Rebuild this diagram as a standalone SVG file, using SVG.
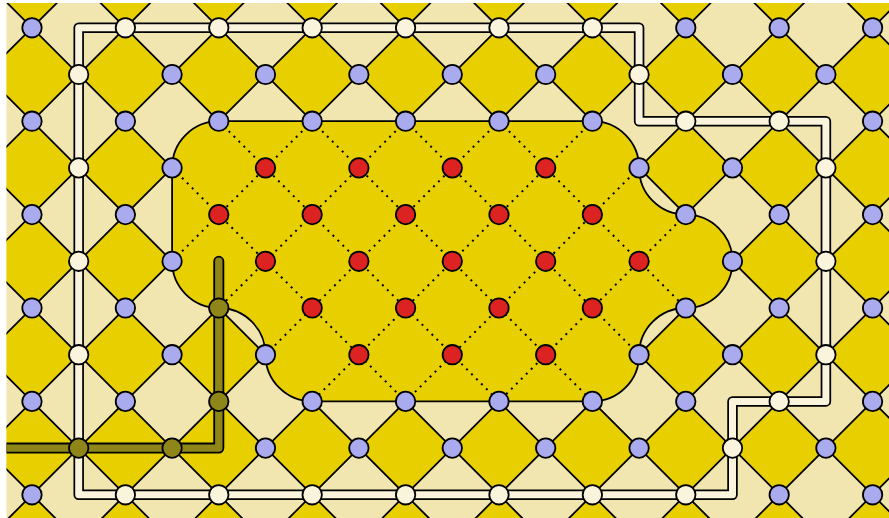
<svg xmlns="http://www.w3.org/2000/svg" width="889" height="518" viewBox="0 0 889 518">
<defs>
<style>
.lat{fill:none;stroke:#000;stroke-width:1.8}
.dot{fill:none;stroke:#000;stroke-width:2;stroke-dasharray:2 5}
.reg{fill:#e8d000;stroke:#000;stroke-width:1.8;stroke-linejoin:round}
.wcase{fill:none;stroke:#000;stroke-width:10.5;stroke-linejoin:round}
.wfill{fill:none;stroke:#faf4dc;stroke-width:7;stroke-linejoin:round}
.ocase{fill:none;stroke:#000;stroke-width:11;stroke-linejoin:round;stroke-linecap:round}
.ofill{fill:none;stroke:#8f861a;stroke-width:7.4;stroke-linejoin:round;stroke-linecap:round}
circle{stroke:#000;stroke-width:1.8}
.b circle{fill:#aaaaee}
.w circle{fill:#faf4dc}
.o circle{fill:#8f861a}
.r circle{fill:#dd2222}
</style>
<clipPath id="clip"><rect x="6.5" y="3" width="883" height="515"/></clipPath>
<pattern id="diam" patternUnits="userSpaceOnUse" x="-14.7" y="27.8" width="93.4" height="93.4">
<polygon points="0,46.7 46.7,0 93.4,46.7 46.7,93.4" fill="#e8d000"/>
</pattern>
</defs>
<g clip-path="url(#clip)">
<rect x="0" y="0" width="889" height="518" fill="#f2e6b0"/>
<rect x="0" y="0" width="889" height="518" fill="url(#diam)"/>
<g id="connectors">
<path class="lat" d="M-481.7 -18.9L78.7 541.5M-388.3 -18.9L172.1 541.5M-294.9 -18.9L265.5 541.5M-201.5 -18.9L358.9 541.5M-108.1 -18.9L452.3 541.5M-14.7 -18.9L545.7 541.5M78.7 -18.9L639.1 541.5M172.1 -18.9L732.5 541.5M265.5 -18.9L825.9 541.5M358.9 -18.9L919.3 541.5M452.3 -18.9L1012.7 541.5M545.7 -18.9L1106.1 541.5M639.1 -18.9L1199.5 541.5M732.5 -18.9L1292.9 541.5M825.9 -18.9L1386.3 541.5"/>
<path class="lat" d="M78.7 -18.9L-481.7 541.5M172.1 -18.9L-388.3 541.5M265.5 -18.9L-294.9 541.5M358.9 -18.9L-201.5 541.5M452.3 -18.9L-108.1 541.5M545.7 -18.9L-14.7 541.5M639.1 -18.9L78.7 541.5M732.5 -18.9L172.1 541.5M825.9 -18.9L265.5 541.5M919.3 -18.9L358.9 541.5M1012.7 -18.9L452.3 541.5M1106.1 -18.9L545.7 541.5M1199.5 -18.9L639.1 541.5M1292.9 -18.9L732.5 541.5M1386.3 -18.9L825.9 541.5"/>
<path id="region" class="reg" d="M218.8 121.2L592.4 121.2A46.7 46.7 0 0 1 639.1 167.9A46.7 46.7 0 0 0 685.8 214.6A46.7 46.7 0 0 1 732.5 261.3A46.7 46.7 0 0 1 685.8 308A46.7 46.7 0 0 0 639.1 354.7A46.7 46.7 0 0 1 592.4 401.4L312.2 401.4A46.7 46.7 0 0 1 265.5 354.7A46.7 46.7 0 0 0 218.8 308A46.7 46.7 0 0 1 172.1 261.3L172.1 167.9A46.7 46.7 0 0 1 218.8 121.2Z"/>
<path class="dot" d="M172.1 167.9L405.6 401.4M218.8 121.2L499 401.4M312.2 121.2L592.4 401.4M405.6 121.2L639.1 354.7M499 121.2L685.8 308M312.2 121.2L172.1 261.3M405.6 121.2L218.8 308M499 121.2L265.5 354.7M592.4 121.2L312.2 401.4M639.1 167.9L405.6 401.4M685.8 214.6L499 401.4"/>
<g id="white-path">
<path class="wcase" d="M78.7 27.8H639.1V121.2H825.9V401.4H732.5V494.8H78.7Z"/>
<path class="wfill" d="M78.7 27.8H639.1V121.2H825.9V401.4H732.5V494.8H78.7Z"/>
</g>
<g id="olive-path">
<path class="ocase" d="M-20 448.1H218.8V261.3"/>
<path class="ofill" d="M-20 448.1H218.8V261.3"/>
</g>
</g>
<g id="nodes">
<g id="n-0-0" class="b"><circle cx="32" cy="27.8" r="9.7"/></g>
<g id="n-2-0" class="w"><circle cx="125.4" cy="27.8" r="9.7"/></g>
<g id="n-4-0" class="w"><circle cx="218.8" cy="27.8" r="9.7"/></g>
<g id="n-6-0" class="w"><circle cx="312.2" cy="27.8" r="9.7"/></g>
<g id="n-8-0" class="w"><circle cx="405.6" cy="27.8" r="9.7"/></g>
<g id="n-10-0" class="w"><circle cx="499" cy="27.8" r="9.7"/></g>
<g id="n-12-0" class="w"><circle cx="592.4" cy="27.8" r="9.7"/></g>
<g id="n-14-0" class="b"><circle cx="685.8" cy="27.8" r="9.7"/></g>
<g id="n-16-0" class="b"><circle cx="779.2" cy="27.8" r="9.7"/></g>
<g id="n-18-0" class="b"><circle cx="872.6" cy="27.8" r="9.7"/></g>

<g id="n-1-1" class="w"><circle cx="78.7" cy="74.5" r="9.7"/></g>
<g id="n-3-1" class="b"><circle cx="172.1" cy="74.5" r="9.7"/></g>
<g id="n-5-1" class="b"><circle cx="265.5" cy="74.5" r="9.7"/></g>
<g id="n-7-1" class="b"><circle cx="358.9" cy="74.5" r="9.7"/></g>
<g id="n-9-1" class="b"><circle cx="452.3" cy="74.5" r="9.7"/></g>
<g id="n-11-1" class="b"><circle cx="545.7" cy="74.5" r="9.7"/></g>
<g id="n-13-1" class="w"><circle cx="639.1" cy="74.5" r="9.7"/></g>
<g id="n-15-1" class="b"><circle cx="732.5" cy="74.5" r="9.7"/></g>
<g id="n-17-1" class="b"><circle cx="825.9" cy="74.5" r="9.7"/></g>

<g id="n-0-2" class="b"><circle cx="32" cy="121.2" r="9.7"/></g>
<g id="n-2-2" class="b"><circle cx="125.4" cy="121.2" r="9.7"/></g>
<g id="n-4-2" class="b"><circle cx="218.8" cy="121.2" r="9.7"/></g>
<g id="n-6-2" class="b"><circle cx="312.2" cy="121.2" r="9.7"/></g>
<g id="n-8-2" class="b"><circle cx="405.6" cy="121.2" r="9.7"/></g>
<g id="n-10-2" class="b"><circle cx="499" cy="121.2" r="9.7"/></g>
<g id="n-12-2" class="b"><circle cx="592.4" cy="121.2" r="9.7"/></g>
<g id="n-14-2" class="w"><circle cx="685.8" cy="121.2" r="9.7"/></g>
<g id="n-16-2" class="w"><circle cx="779.2" cy="121.2" r="9.7"/></g>
<g id="n-18-2" class="b"><circle cx="872.6" cy="121.2" r="9.7"/></g>

<g id="n-1-3" class="w"><circle cx="78.7" cy="167.9" r="9.7"/></g>
<g id="n-3-3" class="b"><circle cx="172.1" cy="167.9" r="9.7"/></g>
<g id="n-5-3" class="r"><circle cx="265.5" cy="167.9" r="9.7"/></g>
<g id="n-7-3" class="r"><circle cx="358.9" cy="167.9" r="9.7"/></g>
<g id="n-9-3" class="r"><circle cx="452.3" cy="167.9" r="9.7"/></g>
<g id="n-11-3" class="r"><circle cx="545.7" cy="167.9" r="9.7"/></g>
<g id="n-13-3" class="b"><circle cx="639.1" cy="167.9" r="9.7"/></g>
<g id="n-15-3" class="b"><circle cx="732.5" cy="167.9" r="9.7"/></g>
<g id="n-17-3" class="w"><circle cx="825.9" cy="167.9" r="9.7"/></g>

<g id="n-0-4" class="b"><circle cx="32" cy="214.6" r="9.7"/></g>
<g id="n-2-4" class="b"><circle cx="125.4" cy="214.6" r="9.7"/></g>
<g id="n-4-4" class="r"><circle cx="218.8" cy="214.6" r="9.7"/></g>
<g id="n-6-4" class="r"><circle cx="312.2" cy="214.6" r="9.7"/></g>
<g id="n-8-4" class="r"><circle cx="405.6" cy="214.6" r="9.7"/></g>
<g id="n-10-4" class="r"><circle cx="499" cy="214.6" r="9.7"/></g>
<g id="n-12-4" class="r"><circle cx="592.4" cy="214.6" r="9.7"/></g>
<g id="n-14-4" class="b"><circle cx="685.8" cy="214.6" r="9.7"/></g>
<g id="n-16-4" class="b"><circle cx="779.2" cy="214.6" r="9.7"/></g>
<g id="n-18-4" class="b"><circle cx="872.6" cy="214.6" r="9.7"/></g>

<g id="n-1-5" class="w"><circle cx="78.7" cy="261.3" r="9.7"/></g>
<g id="n-3-5" class="b"><circle cx="172.1" cy="261.3" r="9.7"/></g>
<g id="n-5-5" class="r"><circle cx="265.5" cy="261.3" r="9.7"/></g>
<g id="n-7-5" class="r"><circle cx="358.9" cy="261.3" r="9.7"/></g>
<g id="n-9-5" class="r"><circle cx="452.3" cy="261.3" r="9.7"/></g>
<g id="n-11-5" class="r"><circle cx="545.7" cy="261.3" r="9.7"/></g>
<g id="n-13-5" class="r"><circle cx="639.1" cy="261.3" r="9.7"/></g>
<g id="n-15-5" class="b"><circle cx="732.5" cy="261.3" r="9.7"/></g>
<g id="n-17-5" class="w"><circle cx="825.9" cy="261.3" r="9.7"/></g>

<g id="n-0-6" class="b"><circle cx="32" cy="308" r="9.7"/></g>
<g id="n-2-6" class="b"><circle cx="125.4" cy="308" r="9.7"/></g>
<g id="n-4-6" class="o"><circle cx="218.8" cy="308" r="9.7"/></g>
<g id="n-6-6" class="r"><circle cx="312.2" cy="308" r="9.7"/></g>
<g id="n-8-6" class="r"><circle cx="405.6" cy="308" r="9.7"/></g>
<g id="n-10-6" class="r"><circle cx="499" cy="308" r="9.7"/></g>
<g id="n-12-6" class="r"><circle cx="592.4" cy="308" r="9.7"/></g>
<g id="n-14-6" class="b"><circle cx="685.8" cy="308" r="9.7"/></g>
<g id="n-16-6" class="b"><circle cx="779.2" cy="308" r="9.7"/></g>
<g id="n-18-6" class="b"><circle cx="872.6" cy="308" r="9.7"/></g>

<g id="n-1-7" class="w"><circle cx="78.7" cy="354.7" r="9.7"/></g>
<g id="n-3-7" class="b"><circle cx="172.1" cy="354.7" r="9.7"/></g>
<g id="n-5-7" class="b"><circle cx="265.5" cy="354.7" r="9.7"/></g>
<g id="n-7-7" class="r"><circle cx="358.9" cy="354.7" r="9.7"/></g>
<g id="n-9-7" class="r"><circle cx="452.3" cy="354.7" r="9.7"/></g>
<g id="n-11-7" class="r"><circle cx="545.7" cy="354.7" r="9.7"/></g>
<g id="n-13-7" class="b"><circle cx="639.1" cy="354.7" r="9.7"/></g>
<g id="n-15-7" class="b"><circle cx="732.5" cy="354.7" r="9.7"/></g>
<g id="n-17-7" class="w"><circle cx="825.9" cy="354.7" r="9.7"/></g>

<g id="n-0-8" class="b"><circle cx="32" cy="401.4" r="9.7"/></g>
<g id="n-2-8" class="b"><circle cx="125.4" cy="401.4" r="9.7"/></g>
<g id="n-4-8" class="o"><circle cx="218.8" cy="401.4" r="9.7"/></g>
<g id="n-6-8" class="b"><circle cx="312.2" cy="401.4" r="9.7"/></g>
<g id="n-8-8" class="b"><circle cx="405.6" cy="401.4" r="9.7"/></g>
<g id="n-10-8" class="b"><circle cx="499" cy="401.4" r="9.7"/></g>
<g id="n-12-8" class="b"><circle cx="592.4" cy="401.4" r="9.7"/></g>
<g id="n-14-8" class="b"><circle cx="685.8" cy="401.4" r="9.7"/></g>
<g id="n-16-8" class="w"><circle cx="779.2" cy="401.4" r="9.7"/></g>
<g id="n-18-8" class="b"><circle cx="872.6" cy="401.4" r="9.7"/></g>

<g id="n-1-9" class="o"><circle cx="78.7" cy="448.1" r="9.7"/></g>
<g id="n-3-9" class="o"><circle cx="172.1" cy="448.1" r="9.7"/></g>
<g id="n-5-9" class="b"><circle cx="265.5" cy="448.1" r="9.7"/></g>
<g id="n-7-9" class="b"><circle cx="358.9" cy="448.1" r="9.7"/></g>
<g id="n-9-9" class="b"><circle cx="452.3" cy="448.1" r="9.7"/></g>
<g id="n-11-9" class="b"><circle cx="545.7" cy="448.1" r="9.7"/></g>
<g id="n-13-9" class="b"><circle cx="639.1" cy="448.1" r="9.7"/></g>
<g id="n-15-9" class="w"><circle cx="732.5" cy="448.1" r="9.7"/></g>
<g id="n-17-9" class="b"><circle cx="825.9" cy="448.1" r="9.7"/></g>

<g id="n-0-10" class="b"><circle cx="32" cy="494.8" r="9.7"/></g>
<g id="n-2-10" class="w"><circle cx="125.4" cy="494.8" r="9.7"/></g>
<g id="n-4-10" class="w"><circle cx="218.8" cy="494.8" r="9.7"/></g>
<g id="n-6-10" class="w"><circle cx="312.2" cy="494.8" r="9.7"/></g>
<g id="n-8-10" class="w"><circle cx="405.6" cy="494.8" r="9.7"/></g>
<g id="n-10-10" class="w"><circle cx="499" cy="494.8" r="9.7"/></g>
<g id="n-12-10" class="w"><circle cx="592.4" cy="494.8" r="9.7"/></g>
<g id="n-14-10" class="w"><circle cx="685.8" cy="494.8" r="9.7"/></g>
<g id="n-16-10" class="b"><circle cx="779.2" cy="494.8" r="9.7"/></g>
<g id="n-18-10" class="b"><circle cx="872.6" cy="494.8" r="9.7"/></g>
</g>
</g>
</svg>
